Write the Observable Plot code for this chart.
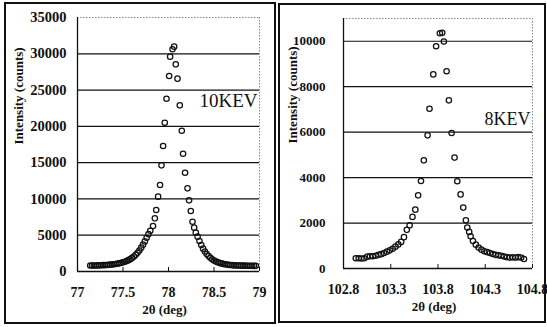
<!DOCTYPE html>
<html><head><meta charset="utf-8">
<script src="https://cdn.jsdelivr.net/npm/d3@7"></script>
<script src="https://cdn.jsdelivr.net/npm/@observablehq/plot@0.6"></script>
<style>
html,body{margin:0;padding:0;background:#fff;}
#wrap{position:relative;width:547px;height:327px;overflow:hidden;background:#fff;}
.panel{position:absolute;top:0;}
.frame{position:absolute;border:2px solid #111;box-sizing:border-box;pointer-events:none;}
</style></head><body><div id="wrap"></div>
<script>
// ---- Left panel (10 keV) ----
const leftX = [77.14,77.16,77.18,77.20,77.22,77.24,77.26,77.28,77.30,77.32,77.34,77.36,77.38,77.40,77.42,77.44,77.46,77.48,77.50,77.52,77.54,77.56,77.58,77.60,77.62,77.64,77.66,77.68,77.70,77.72,77.74,77.76,77.78,77.80,77.83,77.85,77.865,77.886,77.907,77.923,77.941,77.959,77.978,78.007,78.018,78.044,78.062,78.080,78.099,78.124,78.146,78.160,78.182,78.209,78.226,78.245,78.264,78.282,78.300,78.32,78.34,78.36,78.38,78.40,78.42,78.44,78.46,78.48,78.50,78.52,78.54,78.56,78.58,78.60,78.62,78.64,78.66,78.68,78.70,78.72,78.74,78.76,78.78,78.80,78.82,78.84,78.86,78.88,78.90,78.92,78.94,78.96];
const leftY = [820,820,830,830,840,850,860,870,880,900,920,940,970,1000,1040,1080,1130,1190,1260,1340,1440,1560,1700,1870,2070,2300,2580,2900,3280,3700,4150,4650,5150,5600,6270,7330,8470,10310,11920,14630,17290,20500,23810,26940,29600,30620,30980,28550,26570,22900,19400,16230,13610,11460,9810,8340,6860,6040,5350,4800,4200,3650,3150,2750,2400,2120,1880,1680,1520,1390,1280,1190,1110,1050,1000,960,920,890,870,850,840,830,820,810,800,800,790,790,790,780,780,780];
const leftXTicks = [77, 77.5, 78, 78.5, 79];
const leftYTicks = [0, 5000, 10000, 15000, 20000, 25000, 30000, 35000];
const leftLabel = "10KEV";

// ---- Right panel (8 keV) ----
const rightX = [102.93,102.96,102.99,103.02,103.05,103.08,103.11,103.14,103.17,103.20,103.23,103.26,103.29,103.32,103.35,103.38,103.41,103.44,103.47,103.50,103.53,103.56,103.59,103.62,103.65,103.69,103.71,103.75,103.78,103.82,103.845,103.862,103.891,103.915,103.944,103.975,104.004,104.039,104.067,104.095,104.11,104.13,104.145,104.17,104.20,104.23,104.26,104.29,104.32,104.35,104.38,104.41,104.44,104.47,104.50,104.53,104.56,104.59,104.62,104.65,104.68,104.71];
const rightY = [450,450,440,450,520,540,540,560,600,630,680,740,800,870,960,1060,1170,1380,1700,1900,2270,2590,3220,3850,4760,5860,7030,8540,9780,10350,10370,9990,8680,7400,5960,4880,3840,3260,2680,2120,1800,1610,1420,1210,1050,920,830,760,720,680,640,600,580,560,530,500,480,490,480,500,480,420];
const rightXTicks = [102.8, 103.3, 103.8, 104.3, 104.8];
const rightYTicks = [0, 2000, 4000, 6000, 8000, 10000];
const rightLabel = "8KEV";

const yTitle = "Intensity (counts)";
const xTitle = "2θ (deg)";

const FONT = "'Liberation Serif', 'Times New Roman', serif";

function makePanel(o) {
  const data = o.x.map((d, i) => ({x: d, y: o.y[i]}));
  const grid = o.yTicks.filter(v => v > o.yDomain[0] && v < o.yDomain[1]);
  return Plot.plot({
    width: o.width, height: 327,
    marginLeft: o.ml, marginRight: o.mr, marginTop: o.mt, marginBottom: o.mb,
    style: {fontFamily: FONT, fontSize: "13px", fontWeight: "bold", background: "transparent", color: "#111"},
    x: {domain: o.xDomain},
    y: {domain: o.yDomain},
    marks: [
      Plot.ruleY(grid, {stroke: "#111", strokeWidth: 1.2}),
      Plot.ruleY([o.yDomain[1]], {stroke: "#888", strokeDasharray: "1.5,1.5"}),
      Plot.ruleX([o.xDomain[1]], {stroke: "#888", strokeDasharray: "1.5,1.5"}),
      Plot.ruleX([o.xDomain[0]], {stroke: "#111", strokeWidth: 1.3}),
      Plot.ruleY([o.yDomain[0]], {stroke: "#111", strokeWidth: 1.3}),
      Plot.axisX(o.xTicks, {tickSize: 0, tickPadding: 16, tickFormat: d => String(d), label: null, fontSize: 14}),
      Plot.axisX(o.xTicks, {tickSize: -4, text: null, label: null, stroke: "#111"}),
      Plot.axisY(o.yTicks, {tickSize: 0, tickPadding: o.yPad, tickFormat: d => String(d), label: null, fontSize: o.yTickSize}),
      Plot.dot(data, {x: "x", y: "y", r: 2.7, stroke: "#111", strokeWidth: 1.25, fill: "none"}),
      Plot.text([o.label], {frameAnchor: "top-right", lineAnchor: "middle", dx: -2, dy: o.labelDy, fontSize: o.labelSize, fontWeight: "normal", textAnchor: "end", fill: "#111"}),
      Plot.text([yTitle], {frameAnchor: "left", lineAnchor: "middle", rotate: -90, dx: o.yTitleDx, fontSize: 13, fill: "#111"}),
      Plot.text([xTitle], {frameAnchor: "bottom", lineAnchor: "middle", dy: 38.5, dx: -4, fontSize: 13, fill: "#111"})
    ]
  });
}

const wrap = document.getElementById("wrap");

const left = makePanel({
  x: leftX, y: leftY, xDomain: [77, 79], xTicks: leftXTicks, yDomain: [0, 35000], yTicks: leftYTicks,
  label: leftLabel, labelSize: 19, labelDy: 83, width: 275,
  ml: 77, mr: 16, mt: 17, mb: 56, yPad: 11, yTickSize: 14.5, yTitleDx: -59
});
left.classList.add("panel");
left.style.left = "0px";
wrap.appendChild(left);

const right = makePanel({
  x: rightX, y: rightY, xDomain: [102.8, 104.8], xTicks: rightXTicks, yDomain: [0, 11000], yTicks: rightYTicks,
  label: rightLabel, labelSize: 18, labelDy: 101, width: 272,
  ml: 68, mr: 15, mt: 18, mb: 59, yPad: 18, yTickSize: 13, yTitleDx: -51
});
right.classList.add("panel");
right.style.left = "275px";
wrap.appendChild(right);

const f1 = document.createElement("div");
f1.className = "frame";
Object.assign(f1.style, {left: "4px", top: "2px", width: "272px", height: "322px"});
wrap.appendChild(f1);
const f2 = document.createElement("div");
f2.className = "frame";
Object.assign(f2.style, {left: "278px", top: "3px", width: "268px", height: "320px"});
wrap.appendChild(f2);
</script>
</body></html>
